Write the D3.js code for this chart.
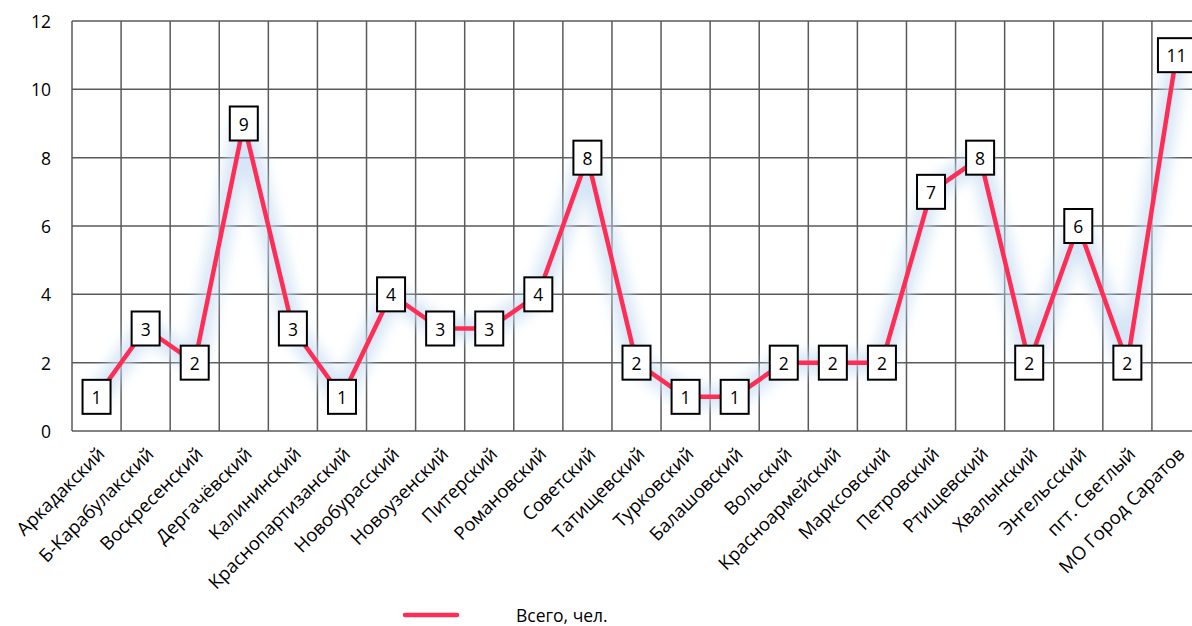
<!DOCTYPE html>
<html>
<head>
<meta charset="utf-8">
<script src="https://cdn.jsdelivr.net/npm/d3@7"></script>
<style>
  body { margin: 0; background: #fff; }
  svg { display: block; font-family: "Open Sans", sans-serif; }
</style>
</head>
<body>
<svg id="chart" width="1192" height="626"></svg>
<script>
// Районы области и число человек в каждом
const districts = [
  "Аркадакский", "Б-Карабулакский", "Воскресенский", "Дергачёвский", "Калининский",
  "Краснопартизанский", "Новобурасский", "Новоузенский", "Питерский", "Романовский",
  "Советский", "Татищевский", "Турковский", "Балашовский", "Вольский",
  "Красноармейский", "Марксовский", "Петровский", "Ртищевский", "Хвалынский",
  "Энгельсский", "пгт. Светлый", "МО Город Саратов"
];
const totals = [1, 3, 2, 9, 3, 1, 4, 3, 3, 4, 8, 2, 1, 1, 2, 2, 2, 7, 8, 2, 6, 2, 11];
const yTicks = [0, 2, 4, 6, 8, 10, 12];
const seriesName = "Всего, чел.";

const svg = d3.select("#chart");
const plotLeft = 72, plotRight = 1201, plotTop = 21, plotBottom = 431;

const x = d3.scaleBand().domain(districts).range([plotLeft, plotRight]).padding(0);
const y = d3.scaleLinear().domain([0, 12]).range([plotBottom, plotTop]);

const gridColor = "#5a5a5a";

// Горизонтальная сетка
svg.append("g").selectAll("line").data(yTicks).join("line")
  .attr("x1", plotLeft).attr("x2", plotRight)
  .attr("y1", d => y(d)).attr("y2", d => y(d))
  .attr("stroke", gridColor).attr("stroke-width", 1.5);

// Вертикальная сетка по границам категорий
const bounds = districts.map(d => x(d)).concat([plotRight]);
svg.append("g").selectAll("line").data(bounds).join("line")
  .attr("x1", d => d).attr("x2", d => d)
  .attr("y1", plotTop).attr("y2", plotBottom)
  .attr("stroke", gridColor).attr("stroke-width", 1.5);

// Подписи оси Y
svg.append("g").selectAll("text").data(yTicks).join("text")
  .attr("x", 51).attr("y", d => y(d))
  .attr("text-anchor", "end").attr("dominant-baseline", "central")
  .attr("font-size", 17.5).attr("fill", "#000")
  .text(d => d);

// Подписи категорий под углом
svg.append("g").selectAll("text").data(districts).join("text")
  .attr("transform", d => `translate(${x(d) + x.bandwidth() / 2 + 4},${plotBottom + 19}) rotate(-45)`)
  .attr("text-anchor", "end").attr("dominant-baseline", "central")
  .attr("font-size", 18.5).attr("fill", "#000")
  .text(d => d);

// Свечение вокруг линии
const defs = svg.append("defs");
defs.append("filter").attr("id", "glow")
  .attr("x", "-20%").attr("y", "-20%").attr("width", "140%").attr("height", "140%")
  .append("feGaussianBlur").attr("stdDeviation", 7);

const line = d3.line()
  .x((d, i) => x(districts[i]) + x.bandwidth() / 2)
  .y(d => y(d));

svg.append("path").datum(totals)
  .attr("d", line).attr("fill", "none")
  .attr("stroke", "#c4dbf2").attr("stroke-width", 20)
  .attr("stroke-linejoin", "round").attr("opacity", 0.7)
  .attr("filter", "url(#glow)");

svg.append("path").datum(totals)
  .attr("d", line).attr("fill", "none")
  .attr("stroke", "#ff2d55").attr("stroke-width", 4.5)
  .attr("stroke-linejoin", "round");

// Подписи значений в рамках
const labels = svg.append("g").selectAll("g").data(totals).join("g")
  .attr("transform", (d, i) => `translate(${x(districts[i]) + x.bandwidth() / 2},${y(d)})`);

labels.each(function(d) {
  const g = d3.select(this);
  const w = String(d).length > 1 ? 37 : 28;
  g.append("rect")
    .attr("x", -w / 2).attr("y", -17).attr("width", w).attr("height", 34)
    .attr("fill", "#fff").attr("stroke", "#000").attr("stroke-width", 2);
  g.append("text")
    .attr("text-anchor", "middle").attr("dominant-baseline", "central")
    .attr("y", 0).attr("font-size", 17.5).attr("fill", "#000")
    .text(d);
});

// Легенда
const legend = svg.append("g");
legend.append("line")
  .attr("x1", 405).attr("x2", 457).attr("y1", 615).attr("y2", 615)
  .attr("stroke", "#ff2d55").attr("stroke-width", 4.5).attr("stroke-linecap", "round");
legend.append("text")
  .attr("x", 516).attr("y", 615).attr("dominant-baseline", "central")
  .attr("font-size", 17.5).attr("fill", "#000")
  .text(seriesName);
</script>
</body>
</html>
